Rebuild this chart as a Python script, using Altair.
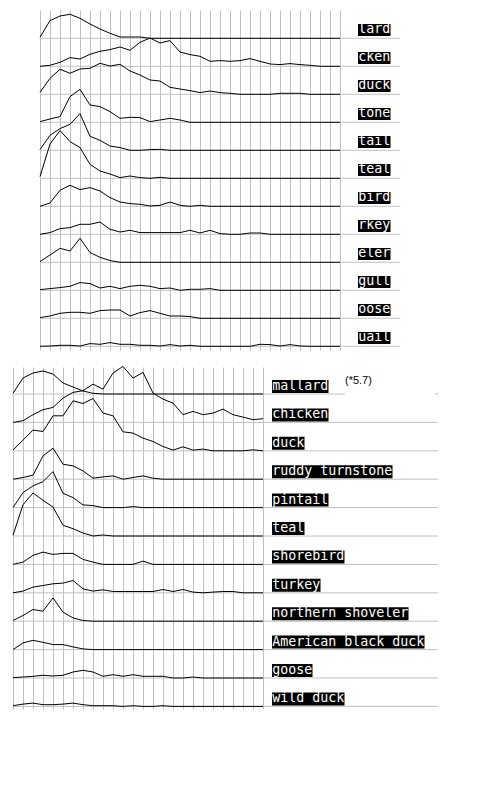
import altair as alt
import pandas as pd

# ---------------- data ----------------
top_labels = ["lard", "cken", "duck", "tone", "tail", "teal",
              "bird", "rkey", "eler", "gull", "oose", "uail"]
bottom_labels = ["mallard", "chicken", "duck", "ruddy turnstone", "pintail", "teal",
                 "shorebird", "turkey", "northern shoveler", "American black duck",
                 "goose", "wild duck"]
notes = ["(*5.7)"]

top_mallard = [1, 17.7, 22.3, 24, 20, 14.3, 9.3, 5, 1.3, 1.3, 1.3] + [0] * 20
top_chicken = [0, 1, 4, 8.7, 7.3, 12, 15, 16.7, 19.3, 16, 24, 28.3, 23.3, 25.7, 14.3,
               11.7, 10, 5, 5.7, 5, 5.7, 7.7, 5, 2.3, 1.7, 2.7, 1.7, 1, 0, 0, 0]
top_duck = [2, 16, 25, 21, 25.3, 26, 31, 28.3, 30, 23.3, 19.3, 14.3, 13.3, 7, 5.3,
            3.7, 1.7, 3.3, 1.7, 1, 0, 0, 0, 0, 1, 1, 1, 0, 0, 0, 0]
top_turnstone = [0.7, 3.3, 5.7, 25.7, 33, 17.3, 15.7, 10.7, 4, 5, 4.7, 0.7, 2.3, 4, 2.3, 0] + [0] * 15
top_pintail = [0.7, 15, 21.7, 26, 36.7, 14, 10, 4.3, 2.7, 0, 0, 0.7, 1, 0] + [0] * 17
top_teal = [1.7, 34.3, 47.7, 36.7, 30.7, 14, 7.3, 4.3, 0.7, 2.3, 0.7, 0, 1, 0] + [0] * 17
top_shorebird = [0, 3.3, 16, 21, 16.7, 18.7, 15.3, 8.7, 4.3, 2.7, 2, 0.3, 1, 4.3, 1, 0, 1, 0] + [0] * 13
top_turkey = [0, 1.7, 5.7, 6.7, 10, 10, 12.3, 5, 2.3, 4, 1.7, 1.7, 1.7, 1.7, 1.7, 4, 1.3,
              4, 0.7, 0, 0, 1.3, 1.3, 0] + [0] * 7
top_shoveler = [0.7, 7.3, 14, 11.3, 24, 9.7, 5, 1.7, 0] + [0] * 22
top_gull = [0.7, 1.7, 2.7, 4, 7.7, 6.7, 2.3, 4, 1.7, 4, 5, 4, 1.7, 2.3, 0, 1, 1, 1.7, 0] + [0] * 12
top_goose = [0.7, 2.3, 5, 6, 6, 5, 7.7, 8.3, 8.3, 2.3, 5.7, 7.7, 5, 2.3, 2.3, 1.7, 0] + [0] * 14
top_quail = [0, 0.3, 1, 1, 0.3, 2.7, 2, 3.7, 2, 2, 1, 1, 0.3, 1.7, 0.3, 1, 0, 0, 0, 0,
             0, 0, 2, 1.7, 0.3, 1.7, 0.3, 0, 0, 0, 0]

bot_mallard = [0.7, 16, 21, 23, 20, 11, 7, 3, 0.7] + [0] * 17
bot_chicken = [0, 1.7, 7.7, 12.7, 15, 24.3, 30, 31.7, 38.3, 33.3, 49.3, 56, 44.3, 50,
               29.3, 23.3, 19.3, 7.7, 11, 7.7, 9.3, 13.3, 7.7, 5.3, 2.7, 3.7]
bot_duck = [0.7, 10.7, 20.7, 19.3, 35, 35, 50, 47.3, 52.3, 37.7, 35, 19, 17.7, 12.7,
            9.3, 4.3, 0.7, 4, 0.7, 1.7, 0, 0, 0, 0, 1, 0]
bot_turnstone = [0, 1.7, 4, 23.3, 31, 15, 13.3, 8.3, 1, 2.3, 3.3, 0, 1.7, 3.3, 1, 0] + [0] * 10
bot_pintail = [0, 15, 21.7, 26, 36, 14.3, 10, 2.7, 2, 0, 0, 0, 1, 0] + [0] * 12
bot_teal = [0.7, 31.3, 43, 35.7, 29, 10.7, 7.3, 3, 0, 1, 0] + [0] * 15
bot_shorebird = [0, 2.3, 9, 12.3, 10, 11, 11, 5, 2.3, 0, 0, 0, 0, 3.3, 0] + [0] * 11
bot_turkey = [0, 1.7, 5.7, 7.3, 9, 9.7, 12.3, 4, 1.7, 3, 1.3, 1.3, 1.3, 1.3, 1.3, 3.3,
              1.3, 3.3, 0.7, 0, 0.7, 1.3, 1.3, 0, 0, 0]
bot_shoveler = [0.7, 5.7, 11.7, 10, 23.3, 9, 3.3, 0.7] + [0] * 18
bot_black_duck = [0, 6.7, 9.3, 7.3, 5, 5, 2.7, 0.7] + [0] * 18
bot_goose = [0.3, 1, 1.7, 2.7, 2, 2.7, 6, 7.7, 6, 1.7, 3.3, 1.7, 3.3, 1.7, 1.7, 1.7,
             0, 0, 1, 0] + [0] * 6
bot_wild_duck = [0.7, 2.3, 3.3, 1.7, 1.7, 2.3, 3.3, 1.7, 0.7, 0.7, 0.7, 0, 0.7, 0, 0,
                 0.7, 0] + [0] * 9

top_series = [top_mallard, top_chicken, top_duck, top_turnstone, top_pintail, top_teal,
              top_shorebird, top_turkey, top_shoveler, top_gull, top_goose, top_quail]
bottom_series = [bot_mallard, bot_chicken, bot_duck, bot_turnstone, bot_pintail, bot_teal,
                 bot_shorebird, bot_turkey, bot_shoveler, bot_black_duck, bot_goose,
                 bot_wild_duck]

GRID = "#c0c0c0"
FONT = "DejaVu Sans Mono"


def long_df(labels, series):
    recs = []
    for r, (lab, vals) in enumerate(zip(labels, series)):
        for k, v in enumerate(vals):
            recs.append({"row": r, "label": lab, "k": k, "v": v})
    return pd.DataFrame(recs)


def panel(labels, series, ncols, height, first, step, x_domain, rule_end,
          label_x, box_lo, box_hi, text_dy, extra=None):
    lines_df = long_df(labels, series)
    rows_df = pd.DataFrame({"row": list(range(len(labels))), "label": labels})
    xscale = alt.Scale(domain=x_domain, nice=False, zero=False)
    xaxis = alt.Axis(values=list(range(ncols)), grid=True, gridColor=GRID,
                     gridOpacity=1, gridWidth=1, labels=False, ticks=False,
                     domain=False, title=None)
    yscale = alt.Scale(domain=[0, height], nice=False, zero=False)
    base = f"{first} - {step} * datum.row"

    hrules = alt.Chart(rows_df).transform_calculate(
        base=base, xa="0", xb=str(rule_end)
    ).mark_rule(color=GRID, strokeWidth=1).encode(
        x=alt.X("xa:Q", scale=xscale, axis=xaxis),
        x2="xb:Q",
        y=alt.Y("base:Q", scale=yscale, axis=None),
    )
    lines = alt.Chart(lines_df).transform_calculate(
        yy=f"{base} + datum.v"
    ).mark_line(color="black", strokeWidth=1, clip=False).encode(
        x=alt.X("k:Q", scale=xscale, axis=xaxis),
        y=alt.Y("yy:Q", scale=yscale, axis=None),
        detail="row:N",
    )
    boxes = alt.Chart(rows_df).transform_calculate(
        lx=str(label_x),
        rx=f"{label_x} + length(datum.label) * 0.8 + 0.05",
        ylo=f"{base} + {box_lo}",
        yhi=f"{base} + {box_hi}",
    ).mark_rect(color="black").encode(
        x=alt.X("lx:Q", scale=xscale, axis=xaxis),
        x2="rx:Q",
        y=alt.Y("ylo:Q", scale=yscale, axis=None),
        y2="yhi:Q",
    )
    texts = alt.Chart(rows_df).transform_calculate(
        lx=str(label_x + 0.02),
        ty=f"{base} + {text_dy}",
    ).mark_text(align="left", baseline="alphabetic", font=FONT, fontSize=13.3,
                color="white").encode(
        x=alt.X("lx:Q", scale=xscale, axis=xaxis),
        y=alt.Y("ty:Q", scale=yscale, axis=None),
        text="label:N",
    )
    layers = [hrules, lines, boxes, texts]
    if extra is not None:
        layers += extra(xscale, xaxis, yscale, first)
    return alt.layer(*layers).properties(width=425, height=height)


def note_layers(xscale, xaxis, yscale, first):
    nd = pd.DataFrame({"note": notes})
    cover = alt.Chart(nd).transform_calculate(
        xa="33.2", xb="42.2", ylo=f"{first} - 2", yhi=f"{first} + 20"
    ).mark_rect(color="white").encode(
        x=alt.X("xa:Q", scale=xscale, axis=xaxis), x2="xb:Q",
        y=alt.Y("ylo:Q", scale=yscale, axis=None), y2="yhi:Q",
    )
    txt = alt.Chart(nd).transform_calculate(
        xa="33.2", ty=f"{first} + 10"
    ).mark_text(align="left", baseline="alphabetic", font="Liberation Sans",
                fontSize=11, color="black").encode(
        x=alt.X("xa:Q", scale=xscale, axis=xaxis),
        y=alt.Y("ty:Q", scale=yscale, axis=None),
        text="note:N",
    )
    return [cover, txt]


top = panel(top_labels, top_series, ncols=31, height=340, first=311.7, step=28,
            x_domain=[-2.7, 39.8], rule_end=36, label_x=31.8,
            box_lo=2.3, box_hi=14.3, text_dy=5.3)
bottom = panel(bottom_labels, bottom_series, ncols=26, height=342, first=315, step=28.4,
               x_domain=[0, 42.5], rule_end=42.5, label_x=25.9,
               box_lo=1, box_hi=14, text_dy=4, extra=note_layers)

chart = alt.vconcat(top, bottom, spacing=14).properties(
    padding={"top": 2, "left": 3, "right": 5, "bottom": 5}
).configure_view(stroke=None)

chart.save("out.html", embed_options={"renderer": "svg", "actions": False})
